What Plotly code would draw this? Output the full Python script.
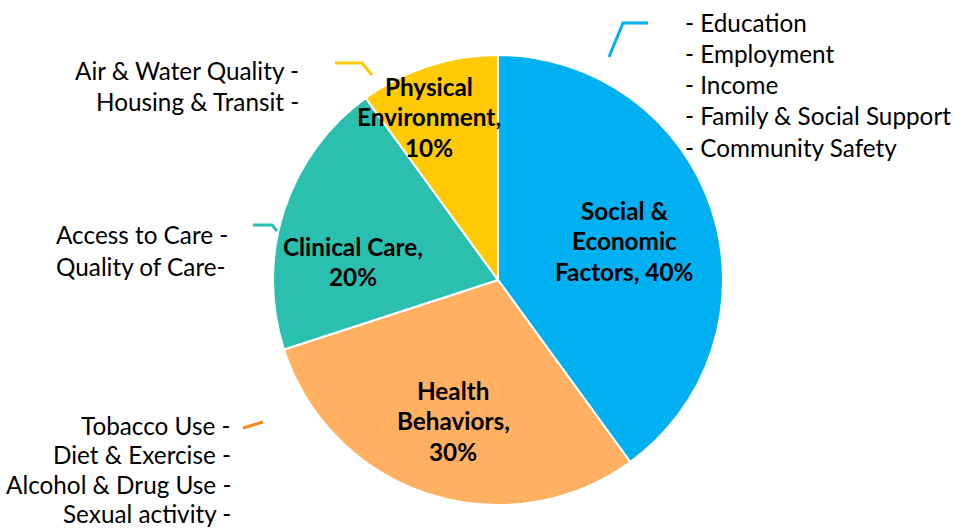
import plotly.graph_objects as go

W, H = 953, 529

categories = ["Social & Economic Factors", "Health Behaviors", "Clinical Care", "Physical Environment"]
shares = [40, 30, 20, 10]
colors = ["#00B0F0", "#FFB061", "#2BBFAF", "#FFCA05"]

# label lines shown inside the slices
slice_label_lines = [
    ["Social &", "Economic", "Factors, 40%"],
    ["Health", "Behaviors,", "30%"],
    ["Clinical Care,", "20%"],
    ["Physical", "Environment,", "10%"],
]

social_items = ["- Education", "- Employment", "- Income", "- Family & Social Support", "- Community Safety"]
behavior_items = ["Tobacco Use -", "Diet & Exercise -", "Alcohol & Drug Use -", "Sexual activity -"]
clinical_items = ["Access to Care -", "Quality of Care-"]
environment_items = ["Air & Water Quality -", "Housing & Transit -"]

FONT = "Lato"


def px(x):
    return x / W


def py(y):
    return 1 - y / H


cx, cy, r = 498, 280, 225

fig = go.Figure(go.Pie(
    labels=categories,
    values=shares,
    sort=False,
    direction="clockwise",
    rotation=0,
    marker=dict(colors=colors, line=dict(color="white", width=2)),
    textinfo="none",
    hoverinfo="label+percent",
    showlegend=False,
    domain=dict(x=[px(cx - r), px(cx + r)], y=[py(cy + r), py(cy - r)]),
))

annotations = []

def add_lines(lines, x, y0, dy, anchor, size, bold=False):
    for i, t in enumerate(lines):
        annotations.append(dict(
            x=px(x), y=py(y0 + i * dy), xref="paper", yref="paper",
            text=f"<b>{t}</b>" if bold else t, showarrow=False,
            xanchor=anchor, yanchor="middle",
            font=dict(family=FONT, size=size, color="black"),
        ))

# inside slice labels
BS = 24.3
add_lines(slice_label_lines[0], 624, 210, 30.7, "center", BS, True)
add_lines(slice_label_lines[1], 453, 390, 30.7, "center", BS, True)
add_lines(slice_label_lines[2], 353, 246, 30.7, "center", BS, True)
add_lines(slice_label_lines[3], 429, 86, 30.7, "center", BS, True)

# outside item lists
TS = 24.3
add_lines(social_items, 683, 23, 31, "left", TS)
add_lines(environment_items, 301, 71, 30.5, "right", TS)
add_lines(clinical_items, 54, 234, 32, "left", TS)
add_lines(behavior_items, 233, 425, 29.6, "right", TS)

shapes = [
    dict(type="path", path=f"M {px(609)} {py(57)} L {px(623)} {py(23)} L {px(648)} {py(23)}",
         xref="paper", yref="paper", line=dict(color=colors[0], width=3)),
    dict(type="path", path=f"M {px(335)} {py(63)} L {px(362)} {py(63)} L {px(372)} {py(75)}",
         xref="paper", yref="paper", line=dict(color=colors[3], width=3)),
    dict(type="path", path=f"M {px(253)} {py(225)} L {px(272)} {py(225)} L {px(277)} {py(231)}",
         xref="paper", yref="paper", line=dict(color=colors[2], width=3)),
    dict(type="path", path=f"M {px(243)} {py(428)} L {px(263)} {py(422)}",
         xref="paper", yref="paper", line=dict(color="#F28A1E", width=3)),
]

fig.update_layout(
    width=W, height=H,
    margin=dict(l=0, r=0, t=0, b=0),
    paper_bgcolor="white", plot_bgcolor="white",
    annotations=annotations,
    shapes=shapes,
)

fig.write_html(
    "out.html",
    config={"displayModeBar": False},
    post_script="document.body.style.margin='0';document.body.style.overflow='hidden';",
)
